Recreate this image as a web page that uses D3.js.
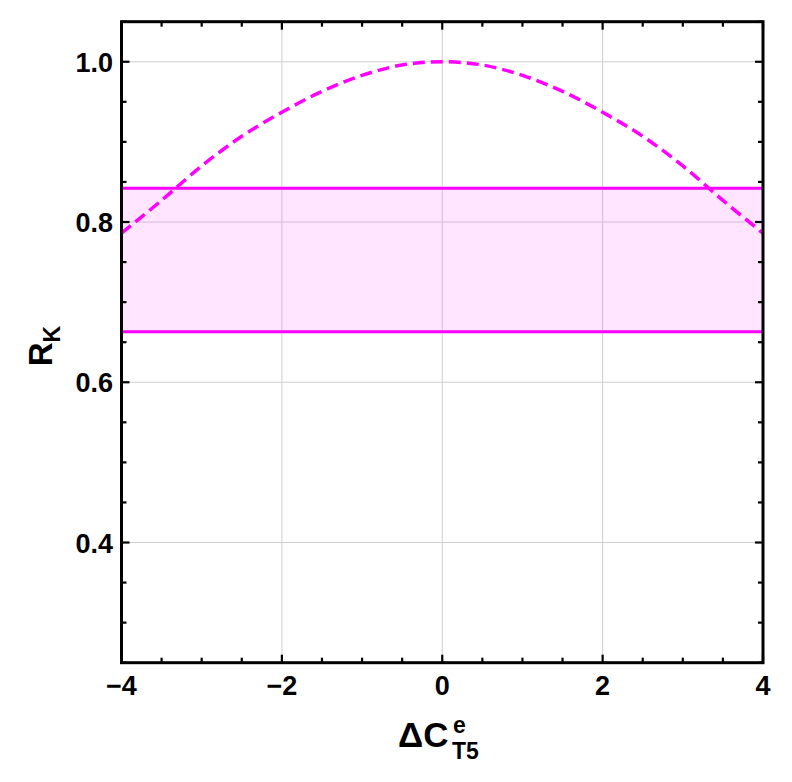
<!DOCTYPE html>
<html><head><meta charset="utf-8">
<script src="https://cdn.jsdelivr.net/npm/d3@7"></script>
<style>body{margin:0;background:#fff}svg{display:block}text{font-family:"Liberation Sans",Arial,sans-serif;font-weight:bold}</style>
</head><body>
<script>
const curveX = [-4,-3.5,-3,-2.5,-2,-1.5,-1,-0.5,0,0.5,1,1.5,2,2.5,3,3.5,4];
const curveY = [0.786,0.827,0.870,0.907,0.937,0.963,0.983,0.996,1.0,0.996,0.983,0.963,0.937,0.907,0.870,0.827,0.786];
const bandLow = 0.663;
const bandHigh = 0.842;
const xTicks = [-4,-2,0,2,4];
const yTicks = [0.4,0.6,0.8,1.0];
const xMinor = d3.range(-4,4.001,0.5);
const yMinor = d3.range(0.25,1.0501,0.05);

const W=792,H=782;
const L=121.5,R=763,T=21.7,B=662.7;
const svg=d3.select("body").append("svg").attr("width",W).attr("height",H);
const x=d3.scaleLinear().domain([-4,4]).range([L,R]);
const y=d3.scaleLinear().domain([0.25,1.05]).range([B,T]);

// grid
svg.append("g").selectAll("line").data(xTicks.filter(d=>d>-4&&d<4)).join("line")
 .attr("x1",d=>x(d)).attr("x2",d=>x(d)).attr("y1",T).attr("y2",B)
 .attr("stroke","#cfcfcf").attr("stroke-width",1);
svg.append("g").selectAll("line").data(yTicks).join("line")
 .attr("y1",d=>y(d)).attr("y2",d=>y(d)).attr("x1",L).attr("x2",R)
 .attr("stroke","#cfcfcf").attr("stroke-width",1);

// band
svg.append("rect").attr("x",L).attr("width",R-L).attr("y",y(bandHigh)).attr("height",y(bandLow)-y(bandHigh))
 .attr("fill","#ff00ff").attr("fill-opacity",0.1);
[bandLow,bandHigh].forEach(v=>svg.append("line").attr("x1",L).attr("x2",R).attr("y1",y(v)).attr("y2",y(v))
 .attr("stroke","#ff00ff").attr("stroke-width",3));

// curve
const pts=curveX.map((d,i)=>[d,curveY[i]]);
svg.append("path").datum(pts)
 .attr("d",d3.line().x(d=>x(d[0])).y(d=>y(d[1])).curve(d3.curveCatmullRom.alpha(0.5)))
 .attr("fill","none").attr("stroke","#ff00ff").attr("stroke-width",3.5).attr("stroke-dasharray","12,6");

// ticks (inside, all four sides)
const isMajX=d=>xTicks.some(t=>Math.abs(t-d)<1e-6);
const isMajY=d=>yTicks.some(t=>Math.abs(t-d)<1e-6);
const tg=svg.append("g").attr("stroke","#000").attr("stroke-width",2.2);
xMinor.forEach(d=>{const len=isMajX(d)?8:5;
 tg.append("line").attr("x1",x(d)).attr("x2",x(d)).attr("y1",B).attr("y2",B-len);
 tg.append("line").attr("x1",x(d)).attr("x2",x(d)).attr("y1",T).attr("y2",T+len);});
yMinor.forEach(d=>{const len=isMajY(d)?8:5;
 tg.append("line").attr("y1",y(d)).attr("y2",y(d)).attr("x1",L).attr("x2",L+len);
 tg.append("line").attr("y1",y(d)).attr("y2",y(d)).attr("x1",R).attr("x2",R-len);});

// frame
svg.append("rect").attr("x",L).attr("y",T).attr("width",R-L).attr("height",B-T)
 .attr("fill","none").attr("stroke","#000").attr("stroke-width",3);

// tick labels
const fmtX=d=>d<0?"\u2212"+Math.abs(d):String(d);
svg.append("g").selectAll("text").data(xTicks).join("text")
 .attr("x",d=>x(d)).attr("y",695).attr("text-anchor","middle").attr("font-size",27).text(fmtX);
svg.append("g").selectAll("text").data(yTicks).join("text")
 .attr("x",113).attr("y",d=>y(d)+10).attr("text-anchor","end").attr("font-size",27).text(d=>d.toFixed(1));

// axis titles
svg.append("text").attr("x",398).attr("y",747).attr("font-size",35).text("\u0394C");
svg.append("text").attr("x",452).attr("y",759).attr("font-size",23).text("T5");
svg.append("text").attr("x",453).attr("y",733).attr("font-size",23).text("e");
const yt=svg.append("text").attr("transform","translate(52,346) rotate(-90)").attr("text-anchor","middle").attr("font-size",33);
yt.append("tspan").text("R");
yt.append("tspan").attr("font-size",23).attr("dy",8).text("K");
</script>
</body></html>
